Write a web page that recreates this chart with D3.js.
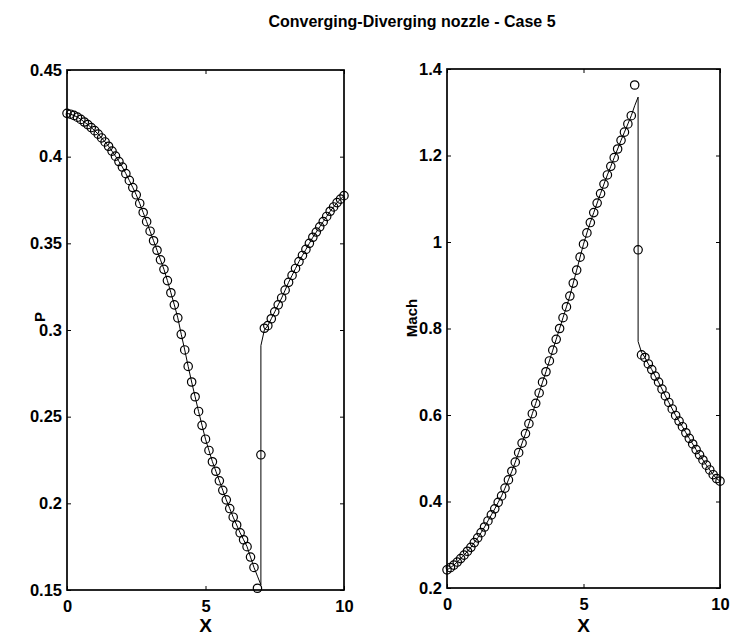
<!DOCTYPE html>
<html>
<head>
<meta charset="utf-8">
<script src="https://cdn.jsdelivr.net/npm/d3@7"></script>
<style>
  body { margin: 0; background: white; }
  svg { display: block; }
  text { font-family: "Liberation Sans", Arial, Helvetica, sans-serif; font-weight: bold; fill: black; }
</style>
</head>
<body>
<script>
// grid points (dx = 0.125)
const xGrid = [0, 0.125, 0.25, 0.375, 0.5, 0.625, 0.75, 0.875, 1, 1.125, 1.25, 1.375, 1.5, 1.625, 1.75, 1.875,
  2, 2.125, 2.25, 2.375, 2.5, 2.625, 2.75, 2.875, 3, 3.125, 3.25, 3.375, 3.5, 3.625, 3.75, 3.875,
  4, 4.125, 4.25, 4.375, 4.5, 4.625, 4.75, 4.875, 5, 5.125, 5.25, 5.375, 5.5, 5.625, 5.75, 5.875,
  6, 6.125, 6.25, 6.375, 6.5, 6.625, 6.75, 6.875, 7, 7.125, 7.25, 7.375, 7.5, 7.625, 7.75, 7.875,
  8, 8.125, 8.25, 8.375, 8.5, 8.625, 8.75, 8.875, 9, 9.125, 9.25, 9.375, 9.5, 9.625, 9.75, 9.875, 10];

// numerical pressure (circles)
const pValues = [0.425, 0.4245, 0.4238, 0.4228, 0.4215, 0.42, 0.4185, 0.4168, 0.415, 0.413, 0.4108, 0.4085, 0.406, 0.4032, 0.4003, 0.3972,
  0.394, 0.3902, 0.3863, 0.3822, 0.378, 0.373, 0.3678, 0.3625, 0.357, 0.3515, 0.346, 0.3405, 0.335, 0.3285, 0.3215, 0.3145,
  0.307, 0.2975, 0.2885, 0.279, 0.27, 0.2615, 0.253, 0.245, 0.237, 0.2305, 0.224, 0.2185, 0.213, 0.2075, 0.202, 0.197,
  0.192, 0.1875, 0.183, 0.179, 0.175, 0.169, 0.163, 0.151, 0.228, 0.301, 0.3025, 0.3065, 0.3105, 0.3145, 0.3185, 0.323,
  0.3275, 0.3315, 0.3355, 0.3395, 0.343, 0.3465, 0.35, 0.3535, 0.3565, 0.3595, 0.3625, 0.3655, 0.3685, 0.371, 0.3735, 0.3755, 0.3775];

// numerical Mach number (circles)
const machValues = [0.242, 0.247, 0.253, 0.26, 0.268, 0.276, 0.285, 0.294, 0.305, 0.316, 0.328, 0.341, 0.355, 0.369, 0.383, 0.398,
  0.413, 0.431, 0.45, 0.47, 0.491, 0.513, 0.535, 0.557, 0.58, 0.603, 0.627, 0.651, 0.676, 0.7, 0.725, 0.75,
  0.775, 0.8, 0.825, 0.85, 0.875, 0.905, 0.935, 0.965, 0.995, 1.021, 1.045, 1.068, 1.09, 1.112, 1.134, 1.155,
  1.175, 1.195, 1.215, 1.235, 1.254, 1.273, 1.292, 1.363, 0.982, 0.739, 0.733, 0.718, 0.705, 0.69, 0.676, 0.66,
  0.644, 0.629, 0.614, 0.599, 0.586, 0.573, 0.559, 0.546, 0.533, 0.52, 0.508, 0.496, 0.484, 0.473, 0.462, 0.453, 0.447];

// exact solution near the shock (the line elsewhere follows the grid values)
const pShock = [[6.875, 0.158], [7.0, 0.153], [7.0, 0.291], [7.125, 0.300]];
const machShock = [[6.875, 1.315], [7.0, 1.335], [7.0, 0.77], [7.125, 0.745]];

const xTicks = [0, 5, 10];
const pTicks = [0.15, 0.2, 0.25, 0.3, 0.35, 0.4, 0.45];
const pTickLabels = ["0.15", "0.2", "0.25", "0.3", "0.35", "0.4", "0.45"];
const machTicks = [0.2, 0.4, 0.6, 0.8, 1, 1.2, 1.4];
const machTickLabels = ["0.2", "0.4", "0.6", "0.8", "1", "1.2", "1.4"];

const width = 731, height = 635;
const svg = d3.select("body").append("svg")
  .attr("width", width)
  .attr("height", height);

svg.append("text")
  .attr("x", 412).attr("y", 27)
  .attr("text-anchor", "middle")
  .style("font-size", "16px")
  .text("Converging-Diverging nozzle - Case 5");

function drawPanel(opt) {
  const x = d3.scaleLinear().domain([0, 10]).range([opt.left, opt.right]);
  const y = d3.scaleLinear().domain(opt.yDomain).range([opt.bottom, opt.top]);
  const g = svg.append("g");

  // frame
  g.append("rect")
    .attr("x", opt.left).attr("y", opt.top)
    .attr("width", opt.right - opt.left).attr("height", opt.bottom - opt.top)
    .attr("fill", "none").attr("stroke", "black").attr("stroke-width", 1.7);

  // axes with inward ticks, mirrored on the opposite sides
  const tl = 4;
  g.append("g").attr("transform", `translate(0,${opt.bottom})`)
    .call(d3.axisBottom(x).tickValues(xTicks).tickSize(-tl).tickPadding(10).tickFormat(d3.format("d")));
  g.append("g").attr("transform", `translate(0,${opt.top})`)
    .call(d3.axisTop(x).tickValues(xTicks).tickSize(-tl).tickFormat(""));
  g.append("g").attr("transform", `translate(${opt.left},0)`)
    .call(d3.axisLeft(y).tickValues(opt.yTicks).tickSize(-tl).tickPadding(5)
      .tickFormat((d, i) => opt.yTickLabels[i]));
  g.append("g").attr("transform", `translate(${opt.right},0)`)
    .call(d3.axisRight(y).tickValues(opt.yTicks).tickSize(-tl).tickFormat(""));

  g.selectAll(".domain").remove();
  g.selectAll(".tick line").attr("stroke", "black").attr("stroke-width", 1);
  g.selectAll(".tick text")
    .style("font-size", "16.5px")
    .style("font-family", "Liberation Sans, Arial, sans-serif")
    .style("font-weight", "bold")
    .attr("fill", "black");

  // exact line: grid values away from the shock, plus the shock points
  const linePts = xGrid.map((xv, i) => [xv, opt.values[i]]);
  const lineData = linePts.filter(d => d[0] <= 6.75)
    .concat(opt.shock)
    .concat(linePts.filter(d => d[0] >= 7.25));
  g.append("path")
    .datum(lineData)
    .attr("fill", "none")
    .attr("stroke", "black")
    .attr("stroke-width", 1)
    .attr("d", d3.line().x(d => x(d[0])).y(d => y(d[1])));

  // numerical circles
  g.selectAll("circle")
    .data(linePts)
    .enter().append("circle")
    .attr("cx", d => x(d[0]))
    .attr("cy", d => y(d[1]))
    .attr("r", 4.2)
    .attr("fill", "none")
    .attr("stroke", "black")
    .attr("stroke-width", 1.2);

  // axis labels
  svg.append("text")
    .attr("x", (opt.left + opt.right) / 2).attr("y", 632)
    .attr("text-anchor", "middle")
    .style("font-size", "19px")
    .text("X");
  svg.append("text")
    .attr("transform", `translate(${opt.labelX},${opt.labelY}) rotate(-90)`)
    .attr("text-anchor", "middle")
    .style("font-size", "15px")
    .text(opt.yLabel);
}

drawPanel({
  left: 67, right: 344, top: 70, bottom: 590,
  yDomain: [0.15, 0.45], yTicks: pTicks, yTickLabels: pTickLabels,
  values: pValues, shock: pShock, yLabel: "P", labelX: 45, labelY: 317
});

drawPanel({
  left: 447, right: 720, top: 69, bottom: 588,
  yDomain: [0.2, 1.4], yTicks: machTicks, yTickLabels: machTickLabels,
  values: machValues, shock: machShock, yLabel: "Mach", labelX: 417, labelY: 318
});
</script>
</body>
</html>
